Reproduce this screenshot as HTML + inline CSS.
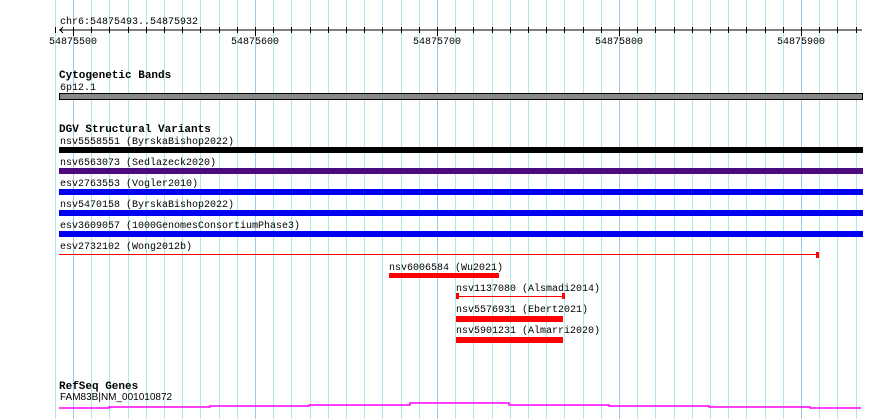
<!DOCTYPE html>
<html><head><meta charset="utf-8"><style>
html,body{margin:0;padding:0;background:#fff;width:890px;height:419px;overflow:hidden}
text{font-family:"Liberation Mono",monospace;font-size:10px;fill:#000}
.b{font-weight:bold;font-size:11px}
</style></head><body>
<svg width="890" height="419" xmlns="http://www.w3.org/2000/svg">
<g id="grid"></g>
<text x="60" y="24">chr6:54875493..54875932</text>
<line x1="59" y1="30" x2="862" y2="30" stroke="#000"/>
<path d="M63,27 L60,30 L63,33" fill="none" stroke="#000"/>
<g id="ticks"></g>
<text x="49" y="44">54875500</text>
<text x="231" y="44">54875600</text>
<text x="413" y="44">54875700</text>
<text x="595" y="44">54875800</text>
<text x="777" y="44">54875900</text>
<text class="b" x="59" y="78">Cytogenetic Bands</text>
<text x="60" y="90">6p12.1</text>
<rect x="59.5" y="93.5" width="803" height="6" fill="#888" stroke="#000"/>
<text class="b" x="59" y="132">DGV Structural Variants</text>
<text x="60" y="144">nsv5558551 (ByrskaBishop2022)</text>
<rect x="59" y="147" width="804" height="6" fill="#000"/>
<text x="60" y="165">nsv6563073 (Sedlazeck2020)</text>
<rect x="59" y="168" width="804" height="6" fill="#4b0a80"/>
<text x="60" y="186">esv2763553 (Vogler2010)</text>
<rect x="59" y="189" width="804" height="6" fill="#0000ee"/>
<text x="60" y="207">nsv5470158 (ByrskaBishop2022)</text>
<rect x="59" y="210" width="804" height="6" fill="#0000ee"/>
<text x="60" y="228">esv3609057 (1000GenomesConsortiumPhase3)</text>
<rect x="59" y="231" width="804" height="6" fill="#0000ee"/>
<text x="60" y="249">esv2732102 (Wong2012b)</text>
<rect x="59" y="254" width="760" height="1" fill="#f00"/>
<rect x="816" y="252" width="3" height="6" fill="#f00"/>
<text x="389" y="270">nsv6006584 (Wu2021)</text>
<rect x="389" y="273" width="110" height="5" fill="#f00"/>
<text x="456" y="291">nsv1137080 (Alsmadi2014)</text>
<rect x="456" y="296" width="109" height="1" fill="#f00"/>
<rect x="456" y="293" width="3" height="6" fill="#f00"/>
<rect x="562" y="293" width="3" height="6" fill="#f00"/>
<text x="456" y="312">nsv5576931 (Ebert2021)</text>
<rect x="456" y="316" width="107" height="6" fill="#f00"/>
<text x="456" y="333">nsv5901231 (Almarri2020)</text>
<rect x="456" y="337" width="107" height="6" fill="#f00"/>
<text class="b" x="59" y="389">RefSeq Genes</text>
<text x="60" y="400" style="font-family:'Liberation Sans',sans-serif;font-size:10px">FAM83B|NM_001010872</text>
<path d="M59,408H109V407H210V406H309V405H410V403H509V405H609V406H709V407H810V408H861" fill="none" stroke="#f0f" stroke-width="1.5"/>
</svg>
<script>
var g=document.getElementById('grid'),t=document.getElementById('ticks'),s='',u='';
for(var i=-1;i<45;i++){var x=Math.round(73+i*18.2)+0.5;if(x<50||x>870)continue;
var major=(i%10==0);
s+='<line x1="'+x+'" y1="0" x2="'+x+'" y2="419" stroke="'+(major?'#9fc8ea':'#aee6ee')+'"/>';
if(x<=862)u+='<line x1="'+x+'" y1="27" x2="'+x+'" y2="'+(major?36:33)+'" stroke="#000"/>';}
g.innerHTML=s;t.innerHTML=u;
</script>
</body></html>
